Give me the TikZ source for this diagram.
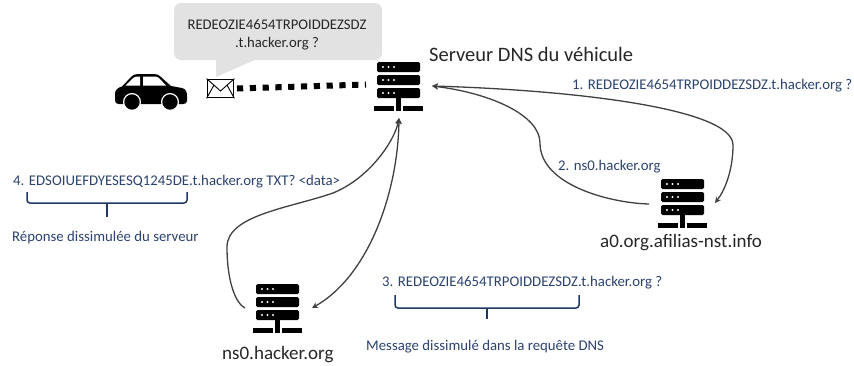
\documentclass[tikz,border=0pt]{standalone}
\usepackage{fontspec}
\setmainfont{Carlito}
\usetikzlibrary{arrows.meta,positioning}
\definecolor{lblue}{HTML}{2B4270}
\definecolor{bracecol}{HTML}{1F3864}
\definecolor{linkcol}{HTML}{404040}
\definecolor{bubble}{HTML}{E3E2E2}
\tikzset{
  x=1pt,y=-1pt,
  lbl/.style={inner sep=0pt,anchor=west,text=lblue,font=\fontsize{14.8}{16}\selectfont},
  big/.style={inner sep=0pt,anchor=west,text=black!85,font=\fontsize{19}{21}\selectfont},
  link/.style={draw=linkcol,line width=1.3pt},
  brc/.style={draw=bracecol,line width=1.5pt,rounded corners=3pt},
  srvicon/.pic={
    \foreach \yy in {0,13,26}{
      \fill[black,rounded corners=1.5pt] (0,\yy) rectangle (43,\yy+10);
      \foreach \xx in {6,11.5,17}{\fill[white] (\xx,\yy+5) circle (1.2);}
    }
    \fill[black] (19,36) rectangle (24,44);
    \fill[black] (-3,44) rectangle (17,49);
    \fill[black] (19,44) rectangle (24,49);
    \fill[black] (26,44) rectangle (46,49);
  }
}
\begin{document}
\begin{tikzpicture}[>={Stealth[length=6pt,width=6pt]}]
\useasboundingbox (0,0) rectangle (854,365);
% callout
\fill[bubble,rounded corners=7pt] (174,3) rectangle (382,60);
\fill[bubble] (216,59) -- (216,77) -- (257,59) -- cycle;
\node[inner sep=0pt,text=black!85,font=\fontsize{14.7}{16}\selectfont] (msgA) at (277,25) {REDEOZIE4654TRPOIDDEZSDZ};
\node[inner sep=0pt,text=black!85,font=\fontsize{14.7}{16}\selectfont] (msgB) at (277,44) {.t.hacker.org ?};
% car
\fill[black] (115,94) .. controls (115,90) and (118,87.5) .. (122,86.5) -- (131,77) .. controls (133,75) and (135,74) .. (138,74)
  -- (154,74) .. controls (157,74) and (159,75) .. (161,77) -- (171,86) -- (182,88) .. controls (186,89) and (187,92) .. (187,96)
  -- (187,101) .. controls (187,103) and (185,104) .. (183,104) -- (119,104) .. controls (116,104) and (115,103) .. (115,100) -- cycle;
\fill[white] (125.5,85.5) -- (133,78) .. controls (134,77) and (136,76.5) .. (140,76.5) -- (140,85.5) -- cycle;
\fill[white] (143,76.5) -- (154,76.5) .. controls (156,76.5) and (158,77) .. (159,78) -- (166,85.5) -- (143,85.5) -- cycle;
\fill[black,draw=white,line width=1.2pt] (132,102) circle (8.4);
\fill[black,draw=white,line width=1.2pt] (170,102) circle (8.4);
% envelope
\node[draw=black,fill=white,line width=1.8pt,minimum width=26pt,minimum height=18pt,inner sep=0pt] (env) at (220.5,88.5) {};
\draw[black,line width=.9pt] (env.north west) -- (220.5,91) -- (env.north east) (env.south west) -- (214,85) (env.south east) -- (227,85);
% servers
\pic at (377,62) {srvicon};
\pic at (661,179) {srvicon};
\pic at (256,284) {srvicon};
\coordinate (dnsR) at (432,86);
\coordinate (dnsB) at (399,118);
\coordinate (dnsL) at (366,84.5);
\coordinate (envR) at (237,88.5);
\coordinate (afiIn) at (715,203);
\coordinate (afiOut) at (649,204);
\coordinate (nsIn) at (312,308);
\coordinate (nsOut) at (245,308);
% dotted link
\draw[black,line width=6pt,dash pattern=on 6.2pt off 6.6pt] (envR) -- (dnsL);
% connectors
\draw[link,<->] (dnsR) .. controls (570,90) and (733,108) .. (733,145) .. controls (733,170) and (725,190) .. (afiIn);
\draw[link,<-] (dnsR) .. controls (490,93) and (540,115) .. (540,143) .. controls (540,185) and (610,203) .. (afiOut);
\draw[link,<-] (dnsB) .. controls (395,140) and (370,178) .. (333,193) .. controls (290,208) and (227,215) .. (227,247) .. controls (227,280) and (235,303) .. (nsOut);
\draw[link,<->] (dnsB) .. controls (398,190) and (370,275) .. (nsIn);
% labels
\node[big,font=\fontsize{20.5}{22}\selectfont] (dnsname) at (429,54) {Serveur DNS du véhicule};
\node[big] (afiname) at (600,243) {a0.org.afilias-nst.info};
\node[big] (nsname) at (222,355) {ns0.hacker.org};
\node[lbl] (l1) at (572,86) {1. REDEOZIE4654TRPOIDDEZSDZ.t.hacker.org ?};
\node[lbl] (l2) at (558,167) {2. ns0.hacker.org};
\node[lbl] (l3) at (382,283) {3. REDEOZIE4654TRPOIDDEZSDZ.t.hacker.org ?};
\node[lbl] (l4) at (13,182) {4. EDSOIUEFDYESESQ1245DE.t.hacker.org TXT? <data>};
\node[lbl] (r1) at (12,238) {Réponse dissimulée du serveur};
\node[lbl] (r2) at (366,347) {Message dissimulé dans la requête DNS};
% braces
\draw[brc] (27,192) -- (27,203) -- (187,203) -- (187,192);
\draw[draw=bracecol,line width=1.5pt] (107,203) -- (107,217);
\draw[brc] (395,295) -- (395,308) -- (579,308) -- (579,295);
\draw[draw=bracecol,line width=1.5pt] (487,308) -- (487,319);
\end{tikzpicture}
\end{document}
